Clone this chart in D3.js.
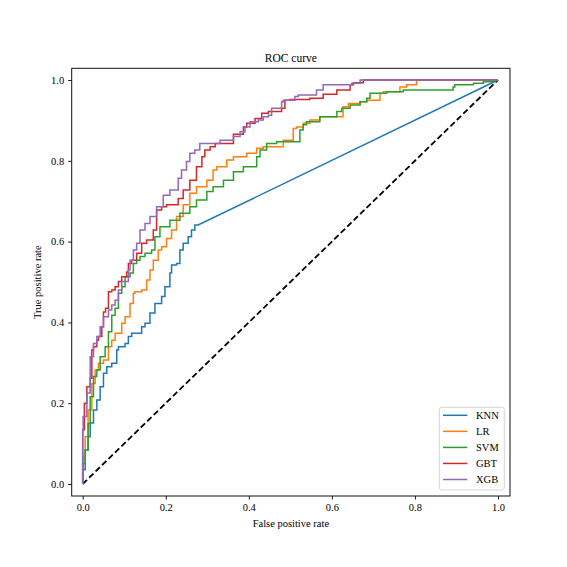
<!DOCTYPE html>
<html>
<head>
<meta charset="utf-8">
<script src="https://cdn.jsdelivr.net/npm/d3@7"></script>
<style>
  html, body { margin: 0; padding: 0; background: #fff; }
  svg text { font-family: "Times New Roman", "Liberation Serif", serif; fill: #000; }
</style>
</head>
<body>
<div id="chart"></div>
<script>
// ROC curves, [fpr, tpr]
const models = ['KNN', 'LR', 'SVM', 'GBT', 'XGB'];
const palette = ['#1f77b4', '#ff7f0e', '#2ca02c', '#d62728', '#9467bd'];
const ticks = [0, 0.2, 0.4, 0.6, 0.8, 1.0];

const knnRoc = [
  [0, 0], [0.006, 0.035], [0.013, 0.084], [0.018, 0.117], [0.026, 0.151], [0.034, 0.183],
  [0.042, 0.208], [0.050, 0.241], [0.058, 0.274], [0.070, 0.290], [0.082, 0.299], [0.086, 0.332],
  [0.102, 0.340], [0.110, 0.348], [0.118, 0.365], [0.142, 0.373], [0.150, 0.389], [0.162, 0.398],
  [0.174, 0.423], [0.190, 0.447], [0.198, 0.464], [0.210, 0.488], [0.214, 0.522], [0.226, 0.542],
  [0.234, 0.546], [0.242, 0.579], [0.254, 0.596], [0.262, 0.612], [0.270, 0.629], [0.278, 0.641],
  [1, 1]
];

const lrRoc = [
  [0, 0], [0.006, 0.068], [0.013, 0.117], [0.022, 0.183], [0.030, 0.249], [0.038, 0.282],
  [0.050, 0.299], [0.062, 0.307], [0.070, 0.340], [0.078, 0.356], [0.094, 0.373], [0.102, 0.398],
  [0.114, 0.414], [0.122, 0.447], [0.126, 0.472], [0.142, 0.476], [0.154, 0.480], [0.162, 0.505],
  [0.170, 0.530], [0.182, 0.554], [0.190, 0.579], [0.202, 0.587], [0.214, 0.608], [0.226, 0.629],
  [0.242, 0.662], [0.258, 0.691], [0.274, 0.720], [0.299, 0.736], [0.314, 0.752], [0.323, 0.777],
  [0.347, 0.785], [0.363, 0.802], [0.395, 0.810], [0.419, 0.819], [0.435, 0.831], [0.483, 0.835],
  [0.507, 0.851], [0.515, 0.880], [0.531, 0.884], [0.547, 0.893], [0.571, 0.901], [0.627, 0.909],
  [0.640, 0.934], [0.668, 0.942], [0.684, 0.946], [0.716, 0.950], [0.724, 0.967], [0.764, 0.971],
  [0.780, 0.983], [0.804, 0.988], [0.824, 1.0], [1, 1]
];

const svmRoc = [
  [0, 0], [0.006, 0.051], [0.013, 0.084], [0.018, 0.150], [0.026, 0.216], [0.034, 0.266],
  [0.042, 0.282], [0.054, 0.315], [0.062, 0.340], [0.070, 0.377], [0.078, 0.418], [0.086, 0.435],
  [0.094, 0.472], [0.102, 0.488], [0.114, 0.513], [0.122, 0.522], [0.130, 0.546], [0.138, 0.554],
  [0.150, 0.563], [0.166, 0.571], [0.174, 0.579], [0.186, 0.612], [0.210, 0.637], [0.234, 0.653],
  [0.258, 0.670], [0.274, 0.686], [0.299, 0.703], [0.314, 0.724], [0.339, 0.736], [0.363, 0.752],
  [0.387, 0.773], [0.419, 0.785], [0.427, 0.810], [0.443, 0.827], [0.467, 0.843], [0.523, 0.847],
  [0.531, 0.876], [0.539, 0.889], [0.571, 0.897], [0.612, 0.909], [0.624, 0.922], [0.644, 0.930],
  [0.668, 0.938], [0.684, 0.946], [0.692, 0.955], [0.732, 0.967], [0.772, 0.971], [0.780, 0.975],
  [0.892, 0.975], [0.896, 0.983], [0.941, 0.988], [0.965, 0.992], [0.981, 0.996], [1, 1]
];

const gbtRoc = [
  [0, 0], [0.004, 0.134], [0.010, 0.200], [0.018, 0.241], [0.022, 0.262], [0.026, 0.332],
  [0.034, 0.340], [0.038, 0.356], [0.046, 0.365], [0.050, 0.389], [0.055, 0.426], [0.062, 0.435],
  [0.070, 0.476], [0.078, 0.480], [0.086, 0.488], [0.094, 0.501], [0.106, 0.513], [0.110, 0.525],
  [0.118, 0.546], [0.130, 0.554], [0.142, 0.571], [0.154, 0.596], [0.170, 0.604], [0.178, 0.629],
  [0.190, 0.678], [0.202, 0.686], [0.230, 0.691], [0.242, 0.707], [0.258, 0.728], [0.274, 0.752],
  [0.287, 0.785], [0.294, 0.810], [0.307, 0.827], [0.319, 0.835], [0.363, 0.843], [0.387, 0.866],
  [0.395, 0.884], [0.415, 0.893], [0.431, 0.905], [0.447, 0.918], [0.479, 0.922], [0.487, 0.930],
  [0.499, 0.950], [0.547, 0.952], [0.579, 0.955], [0.612, 0.965], [0.644, 0.975], [0.652, 0.988],
  [0.676, 0.993], [0.684, 1.0], [1, 1]
];

const xgbRoc = [
  [0, 0], [0.001, 0.134], [0.010, 0.167], [0.018, 0.225], [0.026, 0.315], [0.034, 0.348],
  [0.042, 0.365], [0.050, 0.389], [0.062, 0.414], [0.070, 0.431], [0.078, 0.443], [0.086, 0.455],
  [0.094, 0.480], [0.110, 0.501], [0.114, 0.530], [0.122, 0.554], [0.130, 0.579], [0.138, 0.596],
  [0.150, 0.629], [0.162, 0.645], [0.178, 0.662], [0.194, 0.686], [0.210, 0.715], [0.230, 0.728],
  [0.238, 0.757], [0.250, 0.777], [0.258, 0.798], [0.270, 0.819], [0.282, 0.827], [0.302, 0.843],
  [0.331, 0.843], [0.363, 0.851], [0.379, 0.860], [0.391, 0.872], [0.403, 0.884], [0.423, 0.897],
  [0.435, 0.901], [0.447, 0.909], [0.455, 0.913], [0.479, 0.930], [0.483, 0.946], [0.511, 0.950],
  [0.519, 0.959], [0.563, 0.963], [0.579, 0.975], [0.648, 0.988], [0.668, 0.992], [0.680, 1.0],
  [1, 1]
];

const curves = [knnRoc, lrRoc, svmRoc, gbtRoc, xgbRoc];

const W = 567, H = 567;
const svg = d3.select('#chart').append('svg')
  .attr('width', W).attr('height', H)
  .style('display', 'block');

svg.append('rect').attr('width', W).attr('height', H).attr('fill', '#fff');

const x = d3.scaleLinear().domain([-0.0265, 1.029]).range([71.7, 510]);
const y = d3.scaleLinear().domain([-0.0297, 1.029]).range([496, 68.3]);

// chance line
svg.append('path')
  .attr('d', d3.line().x(d => x(d[0])).y(d => y(d[1]))([[0, 0], [1, 1]]))
  .attr('fill', 'none')
  .attr('stroke', '#000')
  .attr('stroke-width', 1.8)
  .attr('stroke-dasharray', '6,3');

// ROC steps, last segment drawn straight (ties in the scores)
const stepLine = d3.line().x(d => x(d[0])).y(d => y(d[1])).curve(d3.curveStepBefore);
curves.forEach((pts, i) => {
  const last = pts[pts.length - 1];
  const d = stepLine(pts.slice(0, -1)) + 'L' + x(last[0]) + ',' + y(last[1]);
  svg.append('path')
    .attr('d', d)
    .attr('fill', 'none')
    .attr('stroke', palette[i])
    .attr('stroke-width', 1.5)
    .attr('stroke-linejoin', 'miter');
});

// axes
const xAxis = svg.append('g')
  .attr('transform', `translate(0,${y.range()[0]})`)
  .call(d3.axisBottom(x).tickValues(ticks).tickFormat(d3.format('.1f')).tickSize(3.5).tickPadding(4));
const yAxis = svg.append('g')
  .attr('transform', `translate(${x.range()[0]},0)`)
  .call(d3.axisLeft(y).tickValues(ticks).tickFormat(d3.format('.1f')).tickSize(3.5).tickPadding(4));

[xAxis, yAxis].forEach(a => {
  a.select('.domain').remove();
  a.selectAll('.tick line').attr('stroke', '#000').attr('stroke-width', 0.9);
  a.selectAll('.tick text')
    .attr('font-family', '"Times New Roman", "Liberation Serif", serif')
    .attr('font-size', 10.5)
    .attr('fill', '#000');
});

// spines
svg.append('rect')
  .attr('x', x.range()[0]).attr('y', y.range()[1])
  .attr('width', x.range()[1] - x.range()[0])
  .attr('height', y.range()[0] - y.range()[1])
  .attr('fill', 'none')
  .attr('stroke', '#111')
  .attr('stroke-width', 1);

const midX = (x.range()[0] + x.range()[1]) / 2;
const midY = (y.range()[0] + y.range()[1]) / 2;

svg.append('text')
  .attr('x', midX).attr('y', 62)
  .attr('text-anchor', 'middle')
  .attr('font-size', 11.5)
  .text('ROC curve');

svg.append('text')
  .attr('x', midX).attr('y', 527)
  .attr('text-anchor', 'middle')
  .attr('font-size', 10.5)
  .text('False positive rate');

svg.append('text')
  .attr('transform', `translate(41,${midY}) rotate(-90)`)
  .attr('text-anchor', 'middle')
  .attr('font-size', 10.5)
  .text('True positive rate');

// legend
const legend = svg.append('g').attr('transform', 'translate(439.3,407.3)');
legend.append('rect')
  .attr('width', 65).attr('height', 82.7)
  .attr('rx', 2.5)
  .attr('fill', '#fff').attr('fill-opacity', 0.8)
  .attr('stroke', '#d0d0d0').attr('stroke-width', 0.9);

models.forEach((m, i) => {
  const row = legend.append('g').attr('transform', `translate(0,${8 + i * 16.05})`);
  row.append('line')
    .attr('x1', 3.7).attr('x2', 28)
    .attr('stroke', palette[i]).attr('stroke-width', 1.5);
  row.append('text')
    .attr('x', 36.7).attr('dy', '0.35em')
    .attr('font-size', 10.5)
    .text(m);
});
</script>
</body>
</html>
